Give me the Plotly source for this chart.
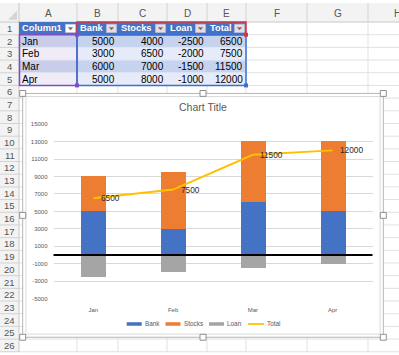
import plotly.graph_objects as go

# ---------------- data ----------------
months = ["Jan", "Feb", "Mar", "Apr"]
bank = [5000, 3000, 6000, 5000]
stocks = [4000, 6500, 7000, 8000]
loan = [-2500, -2000, -1500, -1000]
total = [6500, 7500, 11500, 12000]
header_names = ["Column1", "Bank", "Stocks", "Loan", "Total"]
series_names = ["Bank", "Stocks", "Loan", "Total"]
col_letters = ["A", "B", "C", "D", "E", "F", "G", "H"]
y_tick_vals = [-5000, -3000, -1000, 1000, 3000, 5000, 7000, 9000, 11000, 13000, 15000]
y_tick_text = ["-5000", "-3000", "-1000", "1000", "3000", "5000", "7000", "9000", "11000", "13000", "15000"]
chart_title = "Chart Title"

colors = ["#4472C4", "#ED7D31", "#A5A5A5", "#FFC000"]

# ---------------- geometry (pixels) ----------------
W, H = 399, 355
FONT = "Liberation Sans"
col_edges = [19, 77, 118, 167, 207, 246, 307, 368, 429]
ROW0, RH, NROWS = 19.35, 12.9, 27
CX0, CY0, CX1, CY1 = 22.7, 92, 383.3, 340      # chart frame
PX0, PX1, PY0, PY1 = 53.5, 372.5, 123.3, 300.7  # plot area


def X(px):
    return px / W


def Y(py):
    return 1 - py / H


shapes = []
annotations = []


def rect(x0, y0, x1, y1, fill=None, line=None, lw=1, layer="below"):
    shapes.append(dict(type="rect", xref="paper", yref="paper",
                       x0=X(x0), x1=X(x1), y0=Y(y1), y1=Y(y0), layer=layer,
                       fillcolor=fill or "rgba(0,0,0,0)",
                       line=dict(color=line or "rgba(0,0,0,0)", width=lw if line else 0)))


def seg(x0, y0, x1, y1, color, lw=1, layer="below"):
    shapes.append(dict(type="line", xref="paper", yref="paper",
                       x0=X(x0), x1=X(x1), y0=Y(y0), y1=Y(y1), layer=layer,
                       line=dict(color=color, width=lw)))


def path(d_pts, fill, layer="below"):
    d = "M " + " L ".join(f"{X(a)},{Y(b)}" for a, b in d_pts) + " Z"
    shapes.append(dict(type="path", xref="paper", yref="paper", path=d,
                       fillcolor=fill, line=dict(width=0), layer=layer))


def text(x, y, s, size, color, xanchor="center", bold=False):
    annotations.append(dict(x=X(x), y=Y(y), xref="paper", yref="paper", text=s,
                            showarrow=False, xanchor=xanchor, yanchor="middle",
                            borderpad=0,
                            font=dict(family=FONT, size=size, color=color,
                                      weight="bold" if bold else "normal")))


def row_top(k):  # k = 1-based row number
    return ROW0 + (k - 1) * RH


# ---------------- spreadsheet ----------------
rect(0, 0, W, ROW0, fill="#f3f3f3")
rect(0, 0, col_edges[0], H, fill="#f3f3f3")
path([(8, 17), (17, 17), (17, 8)], "#d4d4d4")

for k in range(1, NROWS + 1):
    yb = row_top(k) + RH
    seg(col_edges[0], yb, W, yb, "#e1e1e1")
    seg(0, yb, col_edges[0], yb, "#d3d3d3")
    if k <= 26:
        text(9.5, row_top(k) + RH / 2, str(k), 9.5, "#555555")
seg(0, ROW0, W, ROW0, "#c9c9c9")
seg(col_edges[0], 0, col_edges[0], H, "#c9c9c9")

for i, letter in enumerate(col_letters):
    xr = col_edges[i + 1]
    seg(xr, ROW0, xr, H, "#e1e1e1")
    seg(xr, 0, xr, ROW0, "#d3d3d3")
    cx = (col_edges[i] + xr) / 2
    if letter == "H":
        cx = 397.5
    text(cx, 10.5, letter, 10, "#555555")

# table
columns = [months, bank, stocks, loan, total]
for c, name in enumerate(header_names):
    xl, xr = col_edges[c], col_edges[c + 1]
    t, b = row_top(1), row_top(2)
    rect(xl, t, xr, b, fill="#4472C4")
    rect(xr - 11.5, t + 2.3, xr - 1.5, b - 2.2,
         fill="#ffffff" if c == 0 else "#eadbe0", line="#c9c9d6", lw=0.5)
    cxm = xr - 6.5
    path([(cxm - 2.7, t + 5.3), (cxm + 2.7, t + 5.3), (cxm, t + 8.3)], "#707070")
    text(xl + 1.8, (t + b) / 2, name, 9.3, "#ffffff", xanchor="left", bold=True)
    for r, val in enumerate(columns[c]):
        tt = row_top(r + 2)
        if c == 0:
            fill = "#cacdea" if r % 2 == 0 else "#efecf7"
        else:
            fill = "#c5d3ef" if r % 2 == 0 else "#e5ebf8"
        rect(xl, tt, xr, tt + RH, fill=fill)
        if r > 0:
            seg(xl, tt, xr, tt, "#dfe5f3")
        if c == 0:
            text(xl + 2, tt + RH / 2, str(val), 10, "#000000", xanchor="left")
        else:
            text(xr - 2, tt + RH / 2, str(val), 10, "#000000", xanchor="right")

# range selection outlines
rect(col_edges[0] + 0.5, row_top(2), col_edges[1], row_top(6), line="#7b4fc4", lw=1.5)
rect(col_edges[1], row_top(1), col_edges[5], row_top(2), line="#d8343d", lw=1.5)
rect(col_edges[1], row_top(2), col_edges[5], row_top(6), line="#3b6fd2", lw=1.5)
for (hx, hy, hc) in [(col_edges[1], row_top(2), "#7b4fc4"), (col_edges[1], row_top(6), "#7b4fc4"),
                     (col_edges[5], row_top(2), "#d8343d"), (col_edges[5], row_top(6), "#3b6fd2")]:
    rect(hx - 2, hy - 2, hx + 2, hy + 2, fill=hc)

# ---------------- chart box ----------------
rect(CX0, CY0, CX1, CY1, fill="#ffffff", line="#b5b5b5", lw=1)
rect(CX0 + 3.2, CY0 + 3.2, CX1 - 3.2, CY1 - 3.2, line="#d9d9d9", lw=1)
mx, my = (CX0 + CX1) / 2, (CY0 + CY1) / 2
for hx, hy in [(CX0, CY0), (mx, CY0), (CX1, CY0), (CX0, my), (CX1, my),
               (CX0, CY1), (mx, CY1), (CX1, CY1)]:
    rect(hx - 3, hy - 3, hx + 3, hy + 3, fill="#ffffff", line="#8f8f8f", lw=1)

text((CX0 + CX1) / 2, 106, chart_title, 10.5, "#595959")

# custom legend (wide Excel-style swatches)
legend_x = [126.7, 165.5, 209, 248]
LY = 326.5
for i, name in enumerate(series_names):
    x0 = legend_x[i]
    if name == "Total":
        seg(x0, LY, x0 + 16, LY, colors[i], lw=1.8)
        text(x0 + 17.5, LY, name, 6.4, "#595959", xanchor="left")
    else:
        rect(x0, LY - 1.8, x0 + 15, LY + 1.8, fill=colors[i])
        text(x0 + 17, LY, name, 6.4, "#595959", xanchor="left")

# zero line above bars
shapes.append(dict(type="line", xref="x domain", yref="y", x0=0, x1=1, y0=0, y1=0,
                   line=dict(color="#000000", width=2), layer="above"))

# ---------------- traces ----------------
fig = go.Figure()
bar_w = 0.313
fig.add_trace(go.Bar(x=months, y=bank, name="Bank", marker=dict(color=colors[0], line=dict(width=0)), width=bar_w))
fig.add_trace(go.Bar(x=months, y=stocks, name="Stocks", marker=dict(color=colors[1], line=dict(width=0)), width=bar_w))
fig.add_trace(go.Bar(x=months, y=loan, name="Loan", marker=dict(color=colors[2], line=dict(width=0)), width=bar_w))
fig.add_trace(go.Scatter(x=months, y=total, name="Total", mode="lines",
                         line=dict(color=colors[3], width=2)))

for m, t in zip(months, total):
    annotations.append(dict(x=m, y=t, xref="x", yref="y", text=str(t), showarrow=False,
                            xanchor="left", yanchor="middle", xshift=6.5, borderpad=0,
                            font=dict(family=FONT, size=8.3, color="#2b2b2b")))

fig.update_layout(
    width=W, height=H, margin=dict(l=0, r=0, t=0, b=0),
    paper_bgcolor="#ffffff", plot_bgcolor="rgba(0,0,0,0)",
    barmode="relative", bargap=0, showlegend=False,
    shapes=shapes, annotations=annotations,
    font=dict(family=FONT),
    xaxis=dict(domain=[X(PX0), X(PX1)], type="category", showgrid=False, zeroline=False,
               showline=False, ticks="", ticklabelstandoff=6,
               tickfont=dict(size=6, color="#595959", family=FONT)),
    yaxis=dict(domain=[Y(PY1), Y(PY0)], range=[-5000, 15000], tickvals=y_tick_vals,
               ticktext=y_tick_text,
               showgrid=True, gridcolor="#d9d9d9", gridwidth=1, zeroline=False,
               showline=False, ticks="", ticklabelstandoff=5,
               tickfont=dict(size=6, color="#595959", family=FONT)),
)

fig.write_html("out.html")
